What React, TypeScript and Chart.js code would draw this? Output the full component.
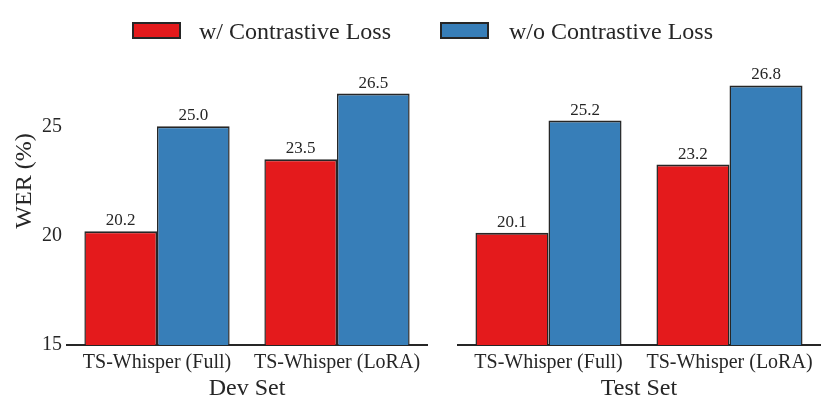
import React, { useEffect, useRef } from "react";
import { Chart, registerables } from "chart.js";

Chart.register(...registerables);

const categories = ["TS-Whisper (Full)", "TS-Whisper (LoRA)"];
const panelTitles = ["Dev Set", "Test Set"];
const seriesNames = ["w/ Contrastive Loss", "w/o Contrastive Loss"];
const devWith = [20.2, 23.5];
const devWithout = [25.0, 26.5];
const testWith = [20.1, 23.2];
const testWithout = [25.2, 26.8];
const yTickValues = [15, 20, 25];
const yMin = 15;
const yMax = 30;

const RED = "#e41a1c";
const BLUE = "#377eb8";
const INK = "#262626";
const FONT = '"Liberation Serif", "Times New Roman", serif';

const valueLabels = {
  id: "valueLabels",
  afterDatasetsDraw(chart: any) {
    const ctx = chart.ctx;
    ctx.save();
    ctx.font = `17px ${FONT}`;
    ctx.fillStyle = INK;
    ctx.textAlign = "center";
    ctx.textBaseline = "bottom";
    chart.data.datasets.forEach((ds: any, di: number) => {
      const meta = chart.getDatasetMeta(di);
      meta.data.forEach((el: any, i: number) => {
        ctx.fillText(Number(ds.data[i]).toFixed(1), el.x, el.y - 2);
      });
    });
    ctx.restore();
  },
};

const barBorder = { top: 2, left: 1.5, right: 1.5, bottom: 0 };

function makeConfig(
  withVals: number[],
  withoutVals: number[],
  title: string,
  showY: boolean,
  padding: any
): any {
  return {
    type: "bar",
    data: {
      labels: categories,
      datasets: [
        {
          label: seriesNames[0],
          data: withVals,
          backgroundColor: RED,
          borderColor: INK,
          borderWidth: barBorder,
          borderSkipped: false,
          categoryPercentage: 0.807,
          barPercentage: 1.0,
        },
        {
          label: seriesNames[1],
          data: withoutVals,
          backgroundColor: BLUE,
          borderColor: INK,
          borderWidth: barBorder,
          borderSkipped: false,
          categoryPercentage: 0.807,
          barPercentage: 1.0,
        },
      ],
    },
    options: {
      responsive: false,
      animation: false,
      layout: { padding },
      plugins: {
        legend: { display: false },
        tooltip: { enabled: false },
      },
      scales: {
        x: {
          grid: { display: false, drawTicks: false },
          border: { display: true, color: INK, width: 2 },
          ticks: {
            color: INK,
            font: { family: FONT, size: 20 },
            padding: 6,
            maxRotation: 0,
            autoSkip: false,
          },
          title: {
            display: true,
            text: title,
            color: INK,
            font: { family: FONT, size: 24, lineHeight: 1.2 },
            padding: { top: 0, bottom: 8 },
          },
          afterFit(scale: any) {
            scale.height = 66;
          },
        },
        y: {
          display: showY,
          min: yMin,
          max: yMax,
          grid: { display: false, drawTicks: false },
          border: { display: false },
          ticks: {
            color: INK,
            font: { family: FONT, size: 20 },
            padding: 5,
          },
          afterBuildTicks(scale: any) {
            scale.ticks = yTickValues.map((v) => ({ value: v }));
          },
          title: {
            display: true,
            text: "WER (%)",
            color: INK,
            font: { family: FONT, size: 24, lineHeight: 1.2 },
            padding: { top: 10, bottom: 0 },
          },
          afterFit(scale: any) {
            if (showY) scale.width = 67;
          },
        },
      },
    },
    plugins: [valueLabels],
  };
}

function LegendItem({ color, text, boxLeft, textLeft }: any) {
  return (
    <>
      <div
        style={{
          position: "absolute",
          left: boxLeft,
          top: 22,
          width: 49,
          height: 17,
          boxSizing: "border-box",
          border: `2px solid ${INK}`,
          background: color,
        }}
      />
      <div
        style={{
          position: "absolute",
          left: textLeft,
          top: 15,
          height: 32,
          lineHeight: "32px",
          fontFamily: FONT,
          fontSize: 24,
          color: INK,
          whiteSpace: "nowrap",
        }}
      >
        {text}
      </div>
    </>
  );
}

export default function App() {
  const leftRef = useRef<HTMLCanvasElement>(null);
  const rightRef = useRef<HTMLCanvasElement>(null);

  useEffect(() => {
    const c1 = new Chart(
      leftRef.current as HTMLCanvasElement,
      makeConfig(devWith, devWithout, panelTitles[0], true, {
        top: 15,
        right: 13,
        bottom: 0,
        left: 0,
      })
    );
    const c2 = new Chart(
      rightRef.current as HTMLCanvasElement,
      makeConfig(testWith, testWithout, panelTitles[1], false, {
        top: 15,
        right: 11,
        bottom: 0,
        left: 18,
      })
    );
    return () => {
      c1.destroy();
      c2.destroy();
    };
  }, []);

  return (
    <div
      style={{
        position: "absolute",
        left: 0,
        top: 0,
        width: 831,
        height: 411,
        background: "#fff",
        overflow: "hidden",
      }}
    >
      <canvas
        ref={leftRef}
        width={440}
        height={411}
        style={{ position: "absolute", left: 0, top: 0, width: 440, height: 411 }}
      />
      <canvas
        ref={rightRef}
        width={391}
        height={411}
        style={{ position: "absolute", left: 440, top: 0, width: 391, height: 411 }}
      />
      <LegendItem color={RED} text={seriesNames[0]} boxLeft={132} textLeft={199} />
      <LegendItem color={BLUE} text={seriesNames[1]} boxLeft={440} textLeft={509} />
    </div>
  );
}
